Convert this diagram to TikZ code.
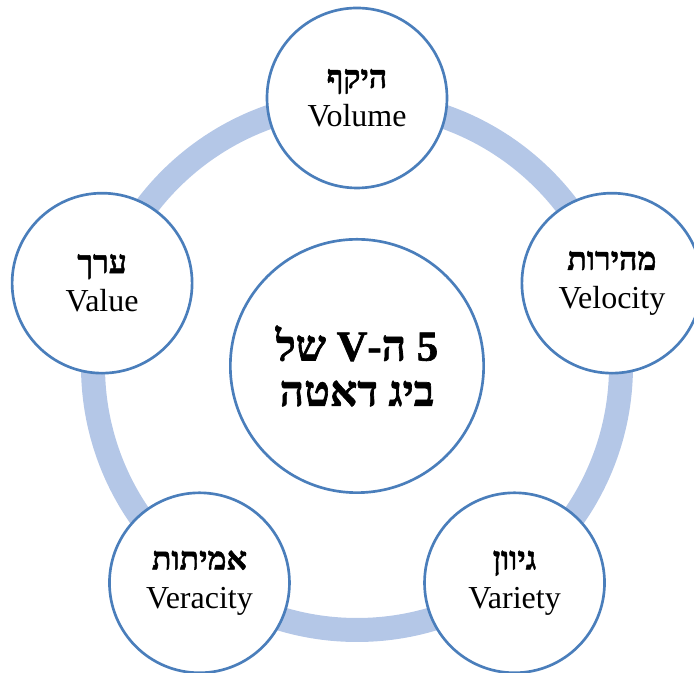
\documentclass[tikz,border=0pt]{standalone}
\usepackage{fontspec}
\setmainfont{Liberation Serif}
\newfontfamily\hebfont[Script=Hebrew,FakeBold=1.5]{Liberation Serif Bold}
\TeXXeTstate=1
\usetikzlibrary{positioning}
\definecolor{ringblue}{RGB}{180,199,231}
\definecolor{edgeblue}{RGB}{74,126,187}
\newcommand{\heb}[1]{{\hebfont\beginR #1\endR}}

\begin{document}
\begin{tikzpicture}[
  x=0.75pt, y=0.75pt,
  vcircle/.style={circle, draw=edgeblue, line width=2pt, fill=white, minimum size=135pt, inner sep=0pt, align=center, font=\fontsize{24}{29}\selectfont},
  core/.style={vcircle, minimum size=190pt, font=\fontsize{32}{34}\selectfont},
  ring/.style={draw=ringblue, line width=18pt}
]
\useasboundingbox (0,0) rectangle (694,673);
\coordinate (mid) at (357,307);
% the ring behind the five circles
\draw[ring] (mid) circle[radius=264];
\node[core] (core) at (mid) {\heb{5 ה-V של}\\\heb{ביג דאטה}};
\node[vcircle] (vol) at ([shift={(90:268)}]mid) {\heb{היקף}\\Volume};
\node[vcircle] (velo) at ([shift={(18:268)}]mid) {\heb{מהירות}\\Velocity};
\node[vcircle] (vari) at ([shift={(-54:268)}]mid) {\heb{גיוון}\\Variety};
\node[vcircle] (vera) at ([shift={(-126:268)}]mid) {\heb{אמיתות}\\Veracity};
\node[vcircle] (val) at ([shift={(162:268)}]mid) {\heb{ערך}\\Value};
\end{tikzpicture}
\end{document}
